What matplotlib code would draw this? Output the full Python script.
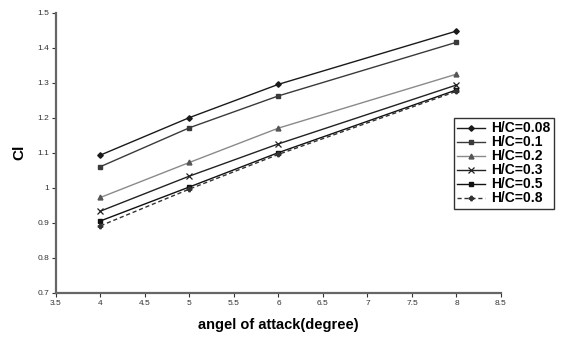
import numpy as np
import matplotlib.pyplot as plt

plt.rcParams['font.family'] = ['Liberation Sans', 'DejaVu Sans']

alpha = [4, 5, 6, 8]
labels = ["H/C=0.08", "H/C=0.1", "H/C=0.2", "H/C=0.3", "H/C=0.5", "H/C=0.8"]
cl_008 = [1.093, 1.200, 1.295, 1.447]
cl_01  = [1.060, 1.171, 1.262, 1.415]
cl_02  = [0.972, 1.072, 1.170, 1.324]
cl_03  = [0.933, 1.033, 1.125, 1.293]
cl_05  = [0.905, 1.002, 1.100, 1.279]
cl_08  = [0.891, 0.996, 1.095, 1.275]

series = [cl_008, cl_01, cl_02, cl_03, cl_05, cl_08]
styles = [
    dict(color="#1a1a1a", marker="D", ms=2.8, ls="-"),
    dict(color="#3a3a3a", marker="s", ms=3, ls="-"),
    dict(color="#8a8a8a", marker="^", ms=3.5, ls="-", mfc="#555555", mec="#555555"),
    dict(color="#222222", marker="x", ms=4, ls="-", mew=0.9),
    dict(color="#111111", marker="s", ms=2.5, ls="-"),
    dict(color="#333333", marker="P", ms=3.2, ls=(0, (3, 2))),
]

fig = plt.figure(figsize=(5.63, 3.39), dpi=100)
ax = fig.add_axes([56 / 563, 1 - 292.7 / 339, 445 / 563, 280.2 / 339])

for y, lab, st in zip(series, labels, styles):
    ax.plot(alpha, y, label=lab, lw=1.0, **st)

ax.set_xlim(3.5, 8.5)
ax.set_ylim(0.7, 1.5)
ax.set_xticks(np.arange(3.5, 8.51, 0.5))
ax.set_yticks(np.arange(0.7, 1.51, 0.1))
ax.set_xticklabels(["3.5", "4", "4.5", "5", "5.5", "6", "6.5", "7", "7.5", "8", "8.5"])
ax.set_yticklabels(["0.7", "0.8", "0.9", "1", "1.1", "1.2", "1.3", "1.4", "1.5"])
ax.tick_params(labelsize=6, colors="#333333", length=3, width=0.8, pad=2)

for s in ["top", "right"]:
    ax.spines[s].set_visible(False)
for s in ["left", "bottom"]:
    ax.spines[s].set_color("#666666")
    ax.spines[s].set_linewidth(1.6)

ax.set_xlabel("angel of attack(degree)", fontsize=10.5, fontweight="bold", labelpad=8)
ax.set_ylabel("Cl", fontsize=11, fontweight="bold")
ax.yaxis.set_label_coords(-30 / 445, 0.5)

leg = ax.legend(loc="upper left", bbox_to_anchor=(454 / 563, 1 - 118 / 339),
                bbox_transform=fig.transFigure, fontsize=10, frameon=True,
                fancybox=False, handlelength=2.0, handletextpad=0.4,
                labelspacing=0.0, borderpad=0.25, borderaxespad=0)
leg.get_frame().set_edgecolor("black")
leg.get_frame().set_linewidth(1.0)
for t in leg.get_texts():
    t.set_fontweight("bold")

fig.savefig("out.png", dpi=100)
